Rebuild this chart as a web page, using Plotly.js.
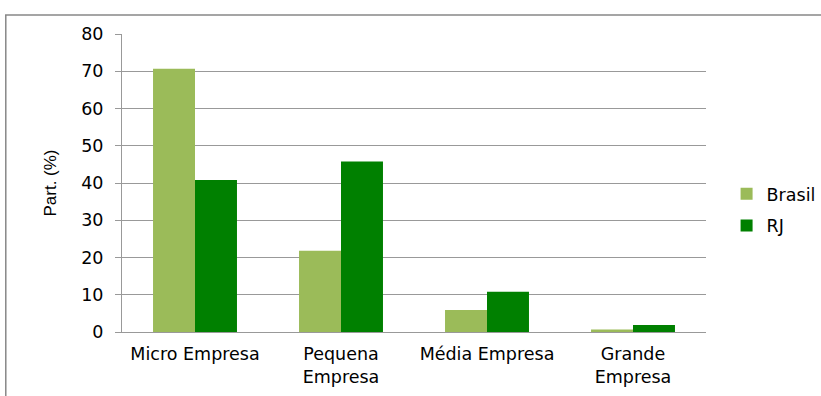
<!DOCTYPE html>
<html><head><meta charset="utf-8">
<script src="https://cdn.plot.ly/plotly-3.0.1.min.js"></script>
<style>html,body{margin:0;padding:0;background:#fff}</style>
</head><body><div id="chart" style="width:821px;height:396px"></div>
<script>
const categories = ["Micro Empresa", "Pequena<br>Empresa", "Média Empresa", "Grande<br>Empresa"];
const brasil = [70.7, 21.8, 5.9, 0.7];
const rj = [40.8, 45.8, 10.8, 1.9];
const yTicks = [0, 10, 20, 30, 40, 50, 60, 70, 80];

const data = [
  {type: "bar", name: "Brasil", legendgroup: "a", x: categories, y: brasil, marker: {color: "#9BBB59"}},
  {type: "bar", name: "RJ", legendgroup: "b", x: categories, y: rj, marker: {color: "#008000"}}
];
const layout = {
  width: 821, height: 396,
  margin: {l: 122, r: 115, t: 34, b: 64},
  paper_bgcolor: "#fff", plot_bgcolor: "#fff",
  font: {family: "DejaVu Sans, sans-serif", size: 17.5, color: "#000"},
  barmode: "group", bargap: 0.425, bargroupgap: 0,
  xaxis: {showline: true, linecolor: "#999", linewidth: 1, ticks: "", ticklabelstandoff: 6, fixedrange: true, automargin: false},
  yaxis: {range: [0, 80], tickvals: yTicks, showgrid: true, gridcolor: "#999", gridwidth: 1, automargin: false,
          showline: true, linecolor: "#999", linewidth: 1, ticks: "outside", ticklen: 6, tickcolor: "#999",
          ticklabelstandoff: 8, zeroline: false,
          title: {text: "Part. (%)", font: {family: "Liberation Sans, Arial, sans-serif", size: 17}, standoff: 20}},
  legend: {xref: "container", yref: "container", x: 0.885, y: 0.47, yanchor: "middle", xanchor: "left",
           tracegroupgap: 6, itemwidth: 20, bgcolor: "rgba(0,0,0,0)"},
  showlegend: true,
  shapes: [{type: "rect", xref: "paper", yref: "paper", x0: -0.199, x1: 1.25, y0: -0.25, y1: 1.064,
            line: {color: "#888", width: 1.5}, fillcolor: "rgba(0,0,0,0)"}]
};
Plotly.newPlot("chart", data, layout, {displayModeBar: false, staticPlot: true});
</script></body></html>
